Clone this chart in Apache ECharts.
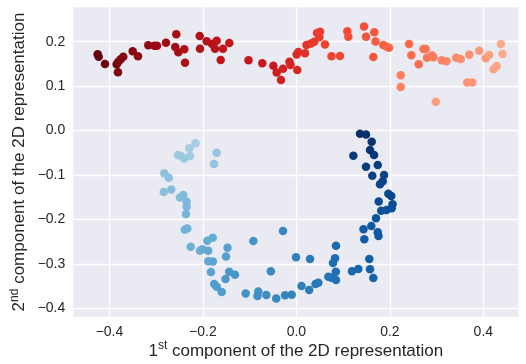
<!DOCTYPE html>
<html>
<head>
<meta charset="utf-8">
<script src="https://cdn.jsdelivr.net/npm/echarts@6/dist/echarts.min.js"></script>
<style>html,body{margin:0;padding:0;background:#fff}#c{width:526px;height:364px}</style>
</head>
<body>
<div id="c"></div>
<script>
// Red group, ordered along the curve (dark -> light)
const redPoints = [
  [-0.4252,0.1716],[-0.4231,0.1662],[-0.4096,0.1498],[-0.3846,0.1491],[-0.3811,0.1550],
  [-0.3818,0.1311],[-0.3760,0.1604],[-0.3704,0.1662],[-0.3503,0.1784],[-0.3390,0.1671],
  [-0.3169,0.1919],[-0.3037,0.1910],[-0.2983,0.1910],[-0.2791,0.1977],[-0.2592,0.1880],
  [-0.2570,0.2166],[-0.2527,0.1761],[-0.2399,0.1829],[-0.2384,0.1527],[-0.2069,0.2128],
  [-0.2063,0.1842],[-0.1920,0.2009],[-0.1806,0.1948],[-0.1742,0.1842],[-0.1706,0.2022],
  [-0.1620,0.1588],[-0.1571,0.1842],[-0.1436,0.1970],[-0.1025,0.1581],[-0.0730,0.1514],
  [-0.0494,0.1460],[-0.0422,0.1307],[-0.0330,0.1138],[-0.0287,0.1392],[-0.0148,0.1550],
  [-0.0126,0.1475],[0.0019,0.1363],[0.0006,0.1712],[0.0041,0.1768],[0.0184,0.1739],
  [0.0216,0.1925],[0.0312,0.1959],[0.0383,0.2000],[0.0441,0.2195],[0.0490,0.2099],
  [0.0505,0.2224],[0.0612,0.1937],[0.0751,0.1671],[0.0933,0.1678],[0.1089,0.2233],
  [0.1111,0.2112],[0.1447,0.2341],[0.1489,0.2110],[0.1646,0.1655],[0.1667,0.2211],
  [0.1693,0.2004],[0.1860,0.1925],[0.1932,0.1887],[0.1982,0.1865],[0.2410,0.1948],
  [0.2459,0.1694],[0.2617,0.1491],[0.2720,0.1835],[0.2767,0.1835],[0.2795,0.1640],
  [0.2902,0.1689],[0.2930,0.1649],[0.2232,0.1244],[0.2232,0.0981],[0.3109,0.1581],
  [0.3212,0.1559],[0.3422,0.1637],[0.3516,0.1610],[0.3700,0.1705],[0.3657,0.1082],
  [0.3762,0.1082],[0.3912,0.1795],[0.4051,0.1626],[0.2983,0.0650],[0.4122,0.1700],
  [0.4220,0.1381],[0.4286,0.1453],[0.4374,0.1948],[0.4411,0.1723]
];
// Blue group, ordered along the U (light -> dark)
const bluePoints = [
  [-0.2159,-0.0286],[-0.2292,-0.0398],[-0.2277,-0.0571],[-0.2534,-0.0549],[-0.2470,-0.0571],
  [-0.2405,-0.0628],[-0.1706,-0.0497],[-0.1763,-0.0751],[-0.2829,-0.0960],[-0.2731,-0.1059],
  [-0.2838,-0.1381],[-0.2677,-0.1325],[-0.2491,-0.1505],[-0.2420,-0.1448],[-0.2348,-0.1599],
  [-0.2348,-0.1712],[-0.2363,-0.1876],[-0.2390,-0.2229],[-0.2335,-0.2202],[-0.2262,-0.2611],
  [-0.2063,-0.2701],[-0.2009,-0.2668],[-0.1907,-0.2476],[-0.1791,-0.2411],[-0.1885,-0.2701],
  [-0.1885,-0.2940],[-0.1787,-0.2944],[-0.1828,-0.3180],[-0.1474,-0.2636],[-0.1507,-0.2832],
  [-0.1759,-0.3450],[-0.1706,-0.3511],[-0.1599,-0.3630],[-0.1517,-0.3338],[-0.1438,-0.3176],
  [-0.1314,-0.3243],[-0.0922,-0.2483],[-0.1085,-0.3664],[-0.0815,-0.3617],[-0.0832,-0.3720],
  [-0.0644,-0.3698],[-0.0548,-0.3165],[-0.0432,-0.3776],[-0.0287,-0.2258],[-0.0244,-0.3704],
  [-0.0101,-0.3693],[-0.0009,-0.2847],[0.0109,-0.3495],[0.0274,-0.3585],[0.0291,-0.2888],
  [0.0409,-0.3450],[0.0469,-0.3423],[0.0683,-0.3286],[0.0747,-0.3309],[0.0847,-0.3360],
  [0.0843,-0.3174],[0.0783,-0.2978],[0.0826,-0.2872],[0.0847,-0.2589],[0.1190,-0.3165],
  [0.1325,-0.3113],[0.1646,-0.3315],[0.1575,-0.3117],[0.1560,-0.2888],[0.1453,-0.2445],
  [0.1436,-0.2218],[0.1603,-0.2146],[0.1740,-0.2287],[0.1757,-0.2371],[0.1703,-0.1973],
  [0.1815,-0.1802],[0.1928,-0.1786],[0.2039,-0.1748],[0.2057,-0.1655],[0.1761,-0.1595],
  [0.1967,-0.1421],[0.2029,-0.1471],[0.1789,-0.1208],[0.1847,-0.1140],[0.1875,-0.0999],
  [0.1624,-0.1017],[0.1740,-0.0774],[0.1489,-0.0812],[0.1218,-0.0565],[0.1661,-0.0549],
  [0.1575,-0.0436],[0.1611,-0.0252],[0.1361,-0.0070],[0.1489,-0.0088]
];
const xTicks = [-0.4, -0.2, 0.0, 0.2, 0.4];
const yTicks = [-0.4, -0.3, -0.2, -0.1, 0.0, 0.1, 0.2];
const xTitle = ['1', 'st', ' component of the 2D representation'];
const yTitle = ['2', 'nd', ' component of the 2D representation'];

const REDS = ['#fff5f0','#fee0d2','#fcbba1','#fc9272','#fb6a4a','#ef3b2c','#cb181d','#a50f15','#67000d'];
const BLUES = ['#f7fbff','#deebf7','#c6dbef','#9ecae1','#6baed6','#4292c6','#2171b5','#08519c','#08306b'];
function cmap(stops, t) {
  const p = Math.max(0, Math.min(1, t)) * (stops.length - 1);
  const i = Math.min(stops.length - 2, Math.floor(p));
  const f = p - i;
  const a = stops[i], b = stops[i + 1];
  const ch = (s, k) => parseInt(s.substr(1 + 2 * k, 2), 16);
  const c = [0, 1, 2].map(k => Math.round(ch(a, k) + (ch(b, k) - ch(a, k)) * f));
  return 'rgb(' + c.join(',') + ')';
}
const redColor = p => cmap(REDS, 1.0 - 0.7 * p.dataIndex / (redPoints.length - 1));
const blueColor = p => cmap(BLUES, 0.35 + 0.65 * p.dataIndex / (bluePoints.length - 1));

const fmt = v => (Math.round(v * 10) / 10).toFixed(1).replace('-', '\u2212');
const FONT = 'Liberation Sans';
const TXT = '#262626';

const chart = echarts.init(document.getElementById('c'), null, { renderer: 'canvas' });
chart.setOption({
  animation: false,
  backgroundColor: '#ffffff',
  grid: { left: 73.3, right: 7.6, top: 7.3, bottom: 47.3, show: true, backgroundColor: '#eaeaf2', borderWidth: 0,
          containLabel: false, outerBoundsMode: 'none' },
  xAxis: {
    type: 'value', min: -0.4774, max: 0.475,
    axisLine: { show: false }, axisTick: { show: false, customValues: xTicks },
    splitLine: { show: true, lineStyle: { color: '#ffffff', width: 1.3 } },
    axisLabel: { customValues: xTicks, formatter: fmt, color: TXT, fontSize: 14, fontFamily: FONT, margin: 8 },
    name: '{b|' + xTitle[0] + '}{s|' + xTitle[1] + '}{b|' + xTitle[2] + '}',
    nameLocation: 'middle', nameGap: 23, nameMoveOverlap: false,
    nameTextStyle: { rich: {
      b: { fontSize: 17, fontFamily: FONT, color: TXT, lineHeight: 20, verticalAlign: 'bottom' },
      s: { fontSize: 12, fontFamily: FONT, color: TXT, lineHeight: 12, verticalAlign: 'top' }
    } }
  },
  yAxis: {
    type: 'value', min: -0.4186, max: 0.2773,
    axisLine: { show: false }, axisTick: { show: false, customValues: yTicks },
    splitLine: { show: true, lineStyle: { color: '#ffffff', width: 1.3 } },
    axisLabel: { customValues: yTicks, formatter: fmt, color: TXT, fontSize: 14, fontFamily: FONT, margin: 8 },
    name: '{b|' + yTitle[0] + '}{s|' + yTitle[1] + '}{b|' + yTitle[2] + '}',
    nameLocation: 'middle', nameGap: 45, nameRotate: 90, nameMoveOverlap: false,
    nameTextStyle: { rich: {
      b: { fontSize: 17, fontFamily: FONT, color: TXT, lineHeight: 20, verticalAlign: 'bottom' },
      s: { fontSize: 12, fontFamily: FONT, color: TXT, lineHeight: 12, verticalAlign: 'top' }
    } }
  },
  series: [
    { type: 'scatter', data: redPoints, symbolSize: 8.5, itemStyle: { color: redColor, opacity: 1 } },
    { type: 'scatter', data: bluePoints, symbolSize: 8.5, itemStyle: { color: blueColor, opacity: 1 } }
  ]
});
</script>
</body>
</html>
